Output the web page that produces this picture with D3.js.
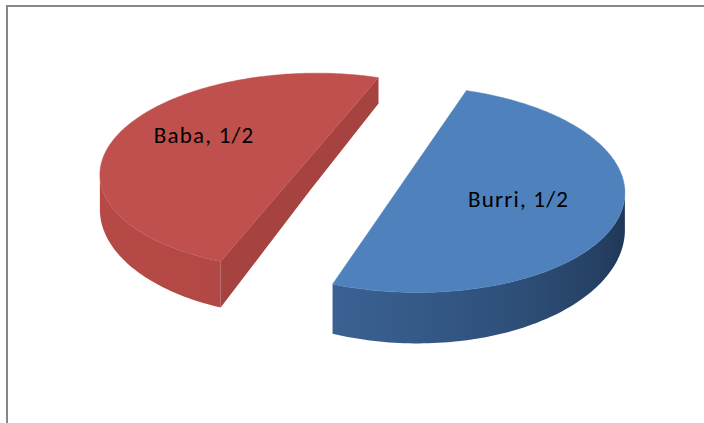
<!DOCTYPE html>
<html><head><meta charset="utf-8">
<script src="https://cdn.jsdelivr.net/npm/d3@7"></script>
<style>html,body{margin:0;padding:0;background:#fff;} svg{display:block}</style>
</head><body>
<svg id="chart" width="704" height="423"></svg>
<script>
// ---- data ----
const categories = ["Baba", "Burri"];
const values = [1, 1];
const valueLabels = ["1/2", "1/2"];
const topColors = ["#c0504d", "#4f81bd"];
const sideLight = ["#b54946", "#3e689b"];
const sideDark = ["#9a3c3a", "#192d4a"];

// ---- layout ----
const W = 704, H = 423;
const svg = d3.select("#chart");
const defs = svg.append("defs");
svg.append("rect").attr("x", 7).attr("y", 6).attr("width", W + 20).attr("height", H + 20)
  .attr("fill", "none").attr("stroke", "#878787").attr("stroke-width", 2);

const deg = Math.PI / 180;
const tilt = 28 * deg, sT = Math.sin(tilt), cT = Math.cos(tilt);
const camD = 6, focal = 1258, cx = 359, cyt = 165.3;
const T0 = 34, Dy = 2.88;          // thickness (px at centre) and its depth falloff
const explode = 0.25;
const startRot = 200 * deg;
const labelRadius = [0.59, 0.545];
const labelTurn = [4 * deg, 6 * deg];

// project a point of the pie (X right, Z away from viewer) on top or bottom face
function proj(X, Z, bottom) {
  const k = focal / (camD + Z * cT);
  const y = cyt - Z * sT * k + (bottom ? T0 * Dy / (Dy + cT * Z) : 0);
  return [cx + X * k, y];
}
function area(pts) {
  let s = 0;
  for (let i = 0; i < pts.length; i++) {
    const a = pts[i], b = pts[(i + 1) % pts.length];
    s += a[0] * b[1] - b[0] * a[1];
  }
  return s;
}
const Lraw = [-0.857, -0.514];
const Ln = Math.hypot(...Lraw);
const L = Lraw.map(v => v / Ln);

const arcs = d3.pie().sort(null).startAngle(startRot).endAngle(startRot + 2 * Math.PI)(values);
const line = d3.line();

arcs.forEach((d, i) => {
  const mid = (d.startAngle + d.endAngle) / 2;
  const ox = explode * Math.sin(mid), oz = explode * Math.cos(mid);
  const P = (r, a, bottom) => proj(ox + r * Math.sin(a), oz + r * Math.cos(a), bottom);
  const g = svg.append("g").attr("class", "slice-" + categories[i]);
  const steps = 160;
  const shade = d3.interpolateRgb(sideDark[i], sideLight[i]);
  const angs = d3.range(steps + 1).map(j => d.startAngle + (d.endAngle - d.startAngle) * j / steps);

  // visible part of the outer curved side
  const vis = [];
  for (let j = 0; j < steps; j++) {
    const q = [P(1, angs[j], false), P(1, angs[j + 1], false), P(1, angs[j + 1], true), P(1, angs[j], true)];
    vis.push(area(q) < 0);
  }
  const j0 = vis.indexOf(true), j1 = vis.lastIndexOf(true);
  if (j0 >= 0) {
    const run = angs.slice(j0, j1 + 2);
    const topArc = run.map(a => P(1, a, false));
    const botArc = run.map(a => P(1, a, true)).reverse();
    const xs = topArc.map(p => p[0]);
    const xmin = d3.min(xs), xmax = d3.max(xs);
    const gid = "side" + i;
    const grad = defs.append("linearGradient").attr("id", gid)
      .attr("gradientUnits", "userSpaceOnUse")
      .attr("x1", xmin).attr("x2", xmax).attr("y1", 0).attr("y2", 0);
    const stops = run.map((a, k) => {
      const lit = (Math.sin(a) * L[0] + Math.cos(a) * L[1] + 1) / 2;
      return { o: (xs[k] - xmin) / (xmax - xmin), c: shade(lit) };
    }).sort((u, v) => u.o - v.o);
    stops.filter((s, k) => k % 8 === 0 || k === stops.length - 1).forEach(s =>
      grad.append("stop").attr("offset", s.o).attr("stop-color", s.c));
    g.append("path").attr("d", line(topArc.concat(botArc)) + "Z")
      .attr("fill", "url(#" + gid + ")");
  }
  // radial cut faces (merged in one path so no seam shows)
  let cutD = "", cutCol = null;
  [[d.startAngle, -1], [d.endAngle, 1]].forEach(([a, sg]) => {
    const q = [P(0, a, false), P(1, a, false), P(1, a, true), P(0, a, true)];
    if (sg * area(q) <= 0) return;
    const nx = sg * Math.cos(a), nz = -sg * Math.sin(a);
    const lit = (nx * L[0] + nz * L[1] + 1) / 2;
    cutCol = shade(Math.max(lit, 0.45));
    cutD += line(sg < 0 ? q : q.slice().reverse()) + "Z";
  });
  if (cutD) g.append("path").attr("d", cutD).attr("fill", cutCol);

  // top surface
  const topPts = [P(0, 0, false)].concat(angs.map(a => P(1, a, false)));
  g.append("path").attr("d", line(topPts) + "Z")
    .attr("fill", topColors[i]).attr("stroke", topColors[i]).attr("stroke-width", 0.5);

  // label
  const la = mid + labelTurn[i];
  const lp = P(labelRadius[i], la, false);
  g.append("text").attr("x", lp[0]).attr("y", lp[1]).attr("dy", "0.35em")
    .attr("text-anchor", "middle")
    .style("font-family", "Carlito, Calibri, Lato, sans-serif")
    .style("font-size", "23px").style("letter-spacing", "1.2px").style("fill", "#000")
    .text(categories[i] + ", " + valueLabels[i]);
});
</script>
</body></html>
